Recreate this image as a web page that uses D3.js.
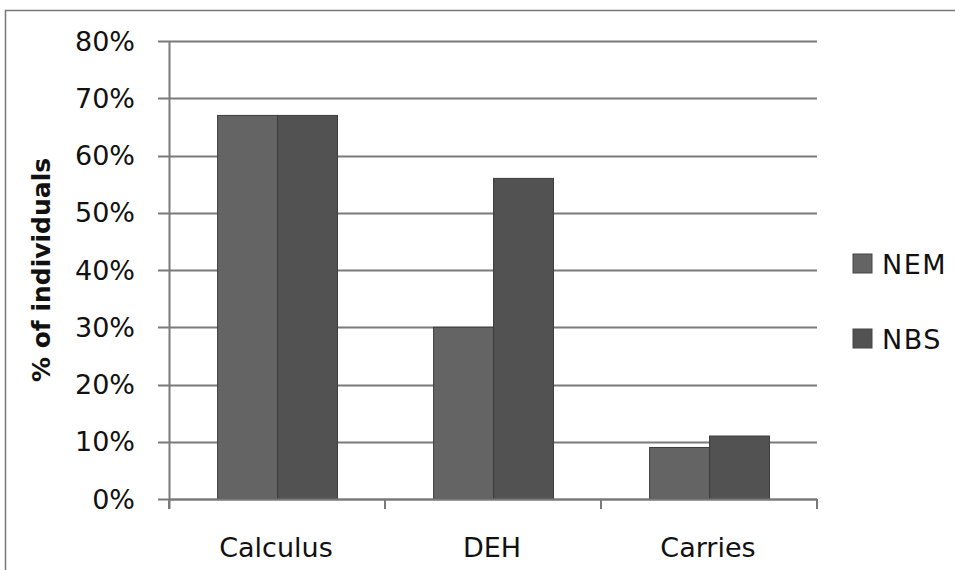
<!DOCTYPE html>
<html>
<head>
<meta charset="utf-8">
<script src="https://cdn.jsdelivr.net/npm/d3@7"></script>
<style>
  body { margin: 0; background: #fff; }
  svg { display: block; }
</style>
</head>
<body>
<div id="chart"></div>
<script>
// Données
const categories = ['Calculus', 'DEH', 'Carries'];
const series = ['NEM', 'NBS'];
const nemValues = [0.67, 0.30, 0.09];
const nbsValues = [0.67, 0.56, 0.11];
const yTicks = [0, 0.1, 0.2, 0.3, 0.4, 0.5, 0.6, 0.7, 0.8];
const seriesColors = { NEM: '#646464', NBS: '#525252' };

const W = 955, H = 570;
const margin = { top: 41, right: 138, bottom: 71, left: 169 };
const width = W - margin.left - margin.right;
const height = H - margin.top - margin.bottom;

const svgRoot = d3.select('#chart').append('svg')
    .attr('width', W)
    .attr('height', H)
    .style('font-family', '"DejaVu Sans", Verdana, sans-serif');

// Cadre extérieur
svgRoot.append('path')
    .attr('d', `M5.5,${H} V10.5 H${W}`)
    .attr('fill', 'none')
    .attr('stroke', '#777')
    .attr('stroke-width', 1.5);

const svg = svgRoot.append('g')
    .attr('transform', `translate(${margin.left},${margin.top})`);

const x0 = d3.scaleBand().domain(categories).range([0, width]).paddingInner(0).paddingOuter(0);
const x1 = d3.scaleBand().domain(series).range([x0.bandwidth() * 0.225, x0.bandwidth() * 0.78]);
const y = d3.scaleLinear().domain([0, 0.8]).range([height, 0]);

// Grille
svg.append('g')
    .selectAll('line')
    .data(yTicks)
    .join('line')
    .attr('x1', -11)
    .attr('x2', width)
    .attr('y1', d => Math.round(y(d)) + 0.5)
    .attr('y2', d => Math.round(y(d)) + 0.5)
    .attr('stroke', '#7a7a7a')
    .attr('stroke-width', 2);

// Étiquettes axe Y
svg.append('g')
    .selectAll('text')
    .data(yTicks)
    .join('text')
    .attr('x', -34)
    .attr('y', d => y(d))
    .attr('dy', '0.36em')
    .attr('text-anchor', 'end')
    .style('font-size', '27px')
    .style('fill', '#111')
    .text(d => d3.format('.0%')(d));

// Barres
const data = categories.map((c, i) => ({ cat: c, NEM: nemValues[i], NBS: nbsValues[i] }));
svg.append('g')
    .selectAll('g')
    .data(data)
    .join('g')
    .attr('transform', d => `translate(${x0(d.cat)},0)`)
    .selectAll('rect')
    .data(d => series.map(s => ({ s, v: d[s] })))
    .join('rect')
    .attr('x', d => x1(d.s))
    .attr('y', d => y(d.v))
    .attr('width', x1.bandwidth())
    .attr('height', d => height - y(d.v))
    .attr('fill', d => seriesColors[d.s])
    .attr('stroke', '#3c3c3c')
    .attr('stroke-width', 1);

// Axe Y
svg.append('line')
    .attr('x1', 0.5).attr('x2', 0.5)
    .attr('y1', 0).attr('y2', height + 10)
    .attr('stroke', '#7a7a7a')
    .attr('stroke-width', 2);

// Axe X
svg.append('line')
    .attr('x1', 0).attr('x2', width)
    .attr('y1', height + 0.5).attr('y2', height + 0.5)
    .attr('stroke', '#7a7a7a')
    .attr('stroke-width', 2);

svg.append('g')
    .selectAll('line')
    .data(categories.map(c => x0(c)).concat([width]))
    .join('line')
    .attr('x1', d => d).attr('x2', d => d)
    .attr('y1', height).attr('y2', height + 10)
    .attr('stroke', '#7a7a7a')
    .attr('stroke-width', 2);

svg.append('g')
    .selectAll('text')
    .data(categories)
    .join('text')
    .attr('x', d => x0(d) + x0.bandwidth() / 2 - 1)
    .attr('y', height + 58)
    .attr('text-anchor', 'middle')
    .style('font-size', '27px')
    .style('fill', '#111')
    .text(d => d);

// Titre axe Y
svgRoot.append('text')
    .attr('transform', `translate(50,${margin.top + height / 2}) rotate(-90)`)
    .attr('text-anchor', 'middle')
    .style('font-size', '25px')
    .style('font-weight', 'bold')
    .style('fill', '#111')
    .text('% of individuals');

// Légende
const legend = svgRoot.append('g')
    .attr('transform', 'translate(853,254)');
series.forEach((s, i) => {
    const g = legend.append('g').attr('transform', `translate(0,${i * 75})`);
    g.append('rect')
        .attr('width', 19).attr('height', 19)
        .attr('fill', seriesColors[s])
        .attr('stroke', '#444');
    g.append('text')
        .attr('x', 29)
        .attr('y', 10)
        .attr('dy', '0.36em')
        .style('font-size', '27px')
        .style('letter-spacing', '1.5px')
        .style('fill', '#111')
        .text(s);
});
</script>
</body>
</html>
